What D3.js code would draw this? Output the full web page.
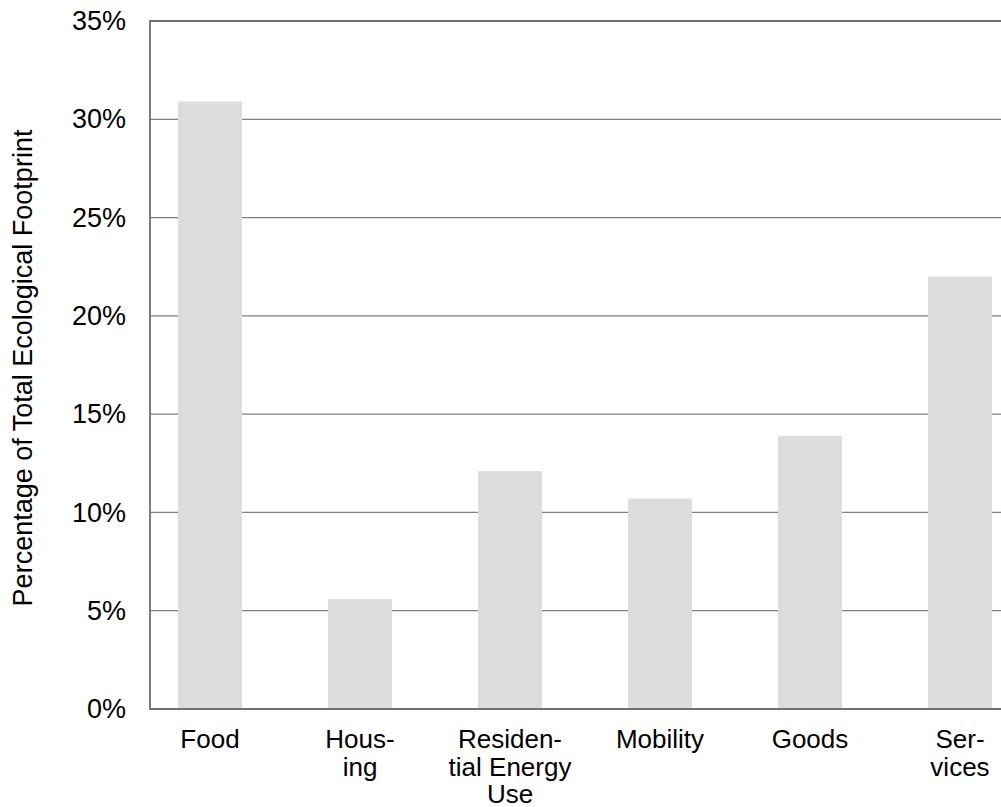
<!DOCTYPE html>
<html>
<head>
<meta charset="utf-8">
<script src="https://cdn.jsdelivr.net/npm/d3@7"></script>
<style>
  body { margin: 0; background: #fff; }
  text { font-family: "Liberation Sans", Arial, Helvetica, sans-serif; fill: #000; }
</style>
</head>
<body>
<div id="chart"></div>
<script>
const categories = ["Food", "Housing", "Residential Energy Use", "Mobility", "Goods", "Services"];
const labelLines = [["Food"], ["Hous-", "ing"], ["Residen-", "tial Energy", "Use"], ["Mobility"], ["Goods"], ["Ser-", "vices"]];
const values = [30.9, 5.6, 12.1, 10.7, 13.9, 22.0];
const yTicks = [0, 5, 10, 15, 20, 25, 30, 35];
const yTitle = "Percentage of Total Ecological Footprint";

const width = 1001, height = 807;
const plotLeft = 150, plotRight = 1001, plotTop = 21, plotBottom = 709;

const svg = d3.select("#chart").append("svg")
    .attr("width", width)
    .attr("height", height);

const x = d3.scaleBand()
    .domain(categories)
    .range([135, 1035])
    .paddingInner(0.5733)
    .paddingOuter(0.2867);

const y = d3.scaleLinear()
    .domain([0, 35])
    .range([plotBottom, plotTop]);

// gridlines
svg.append("g")
    .selectAll("line")
    .data(yTicks.filter(d => d > 0 && d < 35))
    .join("line")
    .attr("x1", plotLeft)
    .attr("x2", plotRight)
    .attr("y1", d => y(d))
    .attr("y2", d => y(d))
    .attr("stroke", "#808080")
    .attr("stroke-width", 1.2);

// bars
svg.append("g")
    .selectAll("rect")
    .data(values)
    .join("rect")
    .attr("x", (d, i) => x(categories[i]))
    .attr("width", x.bandwidth())
    .attr("y", d => y(d))
    .attr("height", d => y(0) - y(d))
    .attr("fill", "#dcdddf");

// frame: top, left, bottom
svg.append("path")
    .attr("d", `M${plotRight},${y(35)}H${plotLeft}V${y(0)}H${plotRight}`)
    .attr("fill", "none")
    .attr("stroke", "#707070")
    .attr("stroke-width", 1.8);

// y tick labels
const yAxis = d3.axisLeft(y)
    .tickValues(yTicks)
    .tickFormat(d => d + "%")
    .tickSize(0)
    .tickPadding(24);

svg.append("g")
    .attr("transform", `translate(${plotLeft},0)`)
    .call(yAxis)
    .call(g => g.select(".domain").remove())
    .selectAll("text")
    .style("font-family", '"Liberation Sans", Arial, sans-serif')
    .style("font-size", "27px")
    .attr("fill", "#000");

// x labels (wrapped by hand, like the original)
const xl = svg.append("g")
    .selectAll("text")
    .data(categories)
    .join("text")
    .attr("text-anchor", "middle")
    .attr("font-size", "26px")
    .attr("x", d => x(d) + x.bandwidth() / 2)
    .attr("y", 748);

xl.selectAll("tspan")
    .data((d, i) => labelLines[i])
    .join("tspan")
    .attr("x", function() { return this.parentNode.getAttribute("x"); })
    .attr("dy", (d, j) => j === 0 ? 0 : 27.5)
    .text(d => d);

// y title
svg.append("text")
    .attr("transform", "translate(32,368) rotate(-90)")
    .attr("text-anchor", "middle")
    .attr("font-size", "27px")
    .text(yTitle);
</script>
</body>
</html>
